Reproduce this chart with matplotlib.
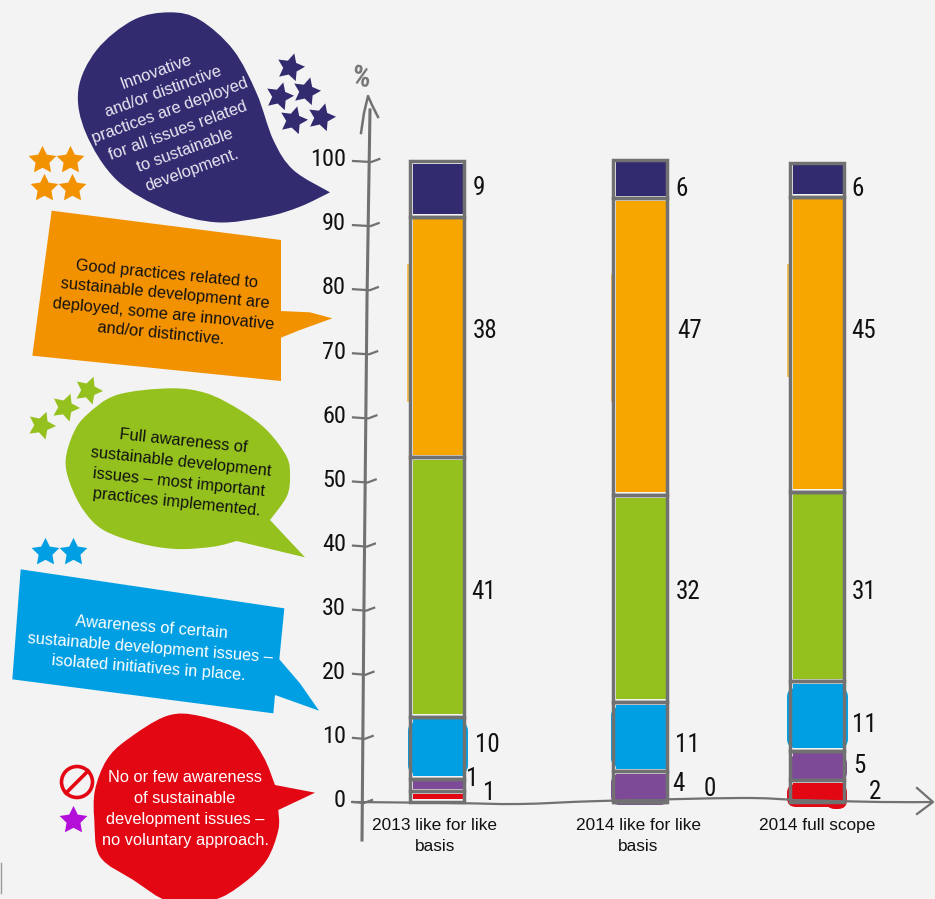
import numpy as np
import matplotlib
matplotlib.use("Agg")
import matplotlib.pyplot as plt
from matplotlib.path import Path
from matplotlib.patches import PathPatch, Polygon, Circle, FancyBboxPatch

# ---------- data ----------
categories = ["2013 like for\u00a0like\nbasis", "2014 like for\u00a0like\nbasis", "2014 full scope"]
# printed values, bottom to top
lab_red = [1, 0, 2]
lab_purple = [1, 4, 5]
lab_blue = [10, 11, 11]
lab_green = [41, 32, 31]
lab_orange = [38, 47, 45]
lab_navy = [9, 6, 6]
# heights as drawn in the picture (hand-sketched, so they differ from the printed numbers)
h_red = [1.7, 0.0, 3.4]
h_purple = [1.9, 4.8, 4.6]
h_blue = [9.7, 10.8, 10.8]
h_green = [40.5, 32.3, 29.6]
h_orange = [37.5, 46.3, 46.0]
h_navy = [8.7, 6.0, 5.3]
yticks = [0, 10, 20, 30, 40, 50, 60, 70, 80, 90, 100]

C_NAVY, C_ORANGE, C_GREEN, C_BLUE, C_PURPLE, C_RED = "#322B70", "#F7A600", "#95C11F", "#009FE3", "#7D4A98", "#E30613"
C_ORANGE2 = "#F39200"
BG = "#F3F3F3"
GRAY = "#727171"
NUM = "Roboto Condensed"
SANS = "Liberation Sans"

W, H = 935, 899
fig = plt.figure(figsize=(W / 100, H / 100), dpi=100, facecolor=BG)

# data axes: value 0 at pixel row 802, value 100 at row 161
PX = 6.41
ax = fig.add_axes([0, 0, 1, 1])
ax.set_xlim(0, W)
ax.set_ylim((802 - H) / PX, 802 / PX)
ax.axis("off")
ax.patch.set_alpha(0)
ax.set_zorder(1)

# overlay in pixel coordinates for decoration
de = fig.add_axes([0, 0, 1, 1], zorder=0)
de.set_xlim(0, W)
de.set_ylim(H, 0)
de.axis("off")


def spline(pts):
    pts = np.asarray(pts, float)
    n = len(pts)
    verts = [pts[0]]
    codes = [Path.MOVETO]
    for i in range(n - 1):
        p0, p1, p2, p3 = pts[max(i - 1, 0)], pts[i], pts[i + 1], pts[min(i + 2, n - 1)]
        verts += [p1 + (p2 - p0) / 6, p2 - (p3 - p1) / 6, p2]
        codes += [Path.CURVE4] * 3
    return verts, codes


def blob(pts, color, tail=None, zorder=2):
    v, c = spline(pts)
    if tail:
        for t in tail:
            v.append(np.array(t, float))
            c.append(Path.LINETO)
    v.append(v[0])
    c.append(Path.CLOSEPOLY)
    de.add_patch(PathPatch(Path(v, c), fc=color, ec="none", zorder=zorder))


def z3(pts, ox=0, oy=0):
    return [(x / 3 + ox, y / 3 + oy) for x, y in pts]


# navy bubble
blob(z3([(990, 577), (880, 510), (820, 420), (770, 280), (700, 150), (600, 60), (510, 37), (400, 60), (290, 150),
         (235, 270), (258, 400), (350, 540), (500, 630), (650, 667), (800, 650), (900, 620), (990, 577)]), C_NAVY)
# orange box
de.add_patch(Polygon(z3([(155, 632), (843, 720), (843, 933), (930, 937), (997, 955), (900, 990), (843, 1013),
                         (843, 1143), (97, 1067)]), fc=C_ORANGE2, ec="none"))
# green bubble
blob(z3([(710, 483), (640, 500), (530, 507), (420, 490), (310, 450), (250, 390), (210, 310), (197, 240), (220, 160),
         (260, 105), (350, 45), (510, 25), (620, 40), (720, 90), (800, 150), (860, 230), (870, 290), (860, 350),
         (810, 420)], 0, 380), C_GREEN, tail=z3([(915, 532)], 0, 380))
# blue box
de.add_patch(Polygon(z3([(62, 568), (853, 685), (838, 838), (900, 910), (957, 992), (825, 945), (820, 1000),
                         (37, 898)], 0, 380), fc=C_BLUE, ec="none"))
# red bubble
blob(z3([(835, 1290), (835, 1350), (800, 1440), (730, 1510), (640, 1560), (510, 1565), (400, 1500), (300, 1430),
         (283, 1320), (285, 1230), (320, 1140), (380, 1080), (500, 1008), (600, 1008), (730, 1055), (790, 1130),
         (825, 1215)], 0, 380), C_RED, tail=z3([(945, 1238)], 0, 380))


def stars(pts, color, size=21, ang=0):
    for (x, y) in pts:
        de.plot([x], [y], marker=(5, 1, ang), ms=size, mfc=color, mec="none", ls="none", zorder=3)


stars(z3([(870, 200), (838, 288), (917, 273), (880, 360), (963, 350)]), C_NAVY, ang=-15)
stars(z3([(127, 480), (210, 480), (132, 565), (215, 565)]), C_ORANGE2, ang=0)
stars([(88, 390), (65, 407), (41, 425)], C_GREEN, ang=-20)
stars([(45, 552), (73, 552)], C_BLUE, ang=0)
stars([(73, 820)], "#B40FD8", ang=0)
de.add_patch(Circle((77, 782), 15.5, fc="none", ec=C_RED, lw=2.6, zorder=3))
de.plot([66, 88], [793, 771], color=C_RED, lw=2.6, zorder=3)
de.plot([0.5, 0.5], [863, 893], color="#9a9a9a", lw=1)

# callout texts
TS = 11.8


def note(x, y, s, color, rot, ls=1.5):
    de.text(x, y, s, color=color, rotation=rot, rotation_mode="anchor", ha="center", va="center",
            multialignment="center", fontsize=TS, family=SANS, linespacing=ls, zorder=4)


note(174, 121, "Innovative\nand/or distinctive\npractices are deployed\nfor all issues related\nto sustainable\ndevelopment.",
     "#E8E8F2", 20)
note(164, 304, "Good practices related to\nsustainable development are\ndeployed, some are innovative\nand/or distinctive.",
     "#111111", -5.5, 1.42)
note(180, 472, "Full awareness of\nsustainable development\nissues \u2013 most important\npractices implemented.",
     "#111111", -6, 1.45)
note(150, 648, "Awareness of certain\nsustainable development issues \u2013\nisolated initiatives in place.",
     "white", -4.5, 1.45)
note(185, 809, "No or few awareness\nof sustainable\ndevelopment issues \u2013\nno voluntary approach.",
     "white", 0)

# paint splashes around the sketched bars
for (x, y, w, h, col) in [(408, 722, 60, 52, C_BLUE), (611, 707, 58, 60, C_BLUE), (787, 688, 61, 60, C_BLUE),
                          (611, 774, 58, 31, C_PURPLE), (789, 755, 58, 26, C_PURPLE),
                          (787, 784, 60, 23, C_RED), (826, 790, 21, 19, C_RED)]:
    de.add_patch(FancyBboxPatch((x + 6, y + 6), w - 12, h - 12, boxstyle="round,pad=6,rounding_size=9",
                                fc=col, ec="none", zorder=1))
for (x, y0, y1) in [(408, 265, 400), (612, 275, 400), (788, 265, 375)]:
    de.plot([x, x], [y0, y1], color=C_ORANGE, lw=2, alpha=0.7, zorder=1)

# bars
x_pos = np.array([437.0, 640.0, 817.0])
series = [h_red, h_purple, h_blue, h_green, h_orange, h_navy]
colors = [C_RED, C_PURPLE, C_BLUE, C_GREEN, C_ORANGE, C_NAVY]
bottom = np.zeros(3)
for vals, col in zip(series, colors):
    vals = np.array(vals)
    inset = np.where(vals > 0, 0.4, 0)
    ax.bar(x_pos + 1, vals - 2 * inset, bottom=bottom + inset, width=50, color=col, zorder=2)
    bottom = bottom + vals

bottom = np.zeros(3)
for vals in series:
    vals = np.array(vals)
    ax.bar(x_pos, vals, bottom=bottom, width=54, fc="none", ec=GRAY, lw=2.5, zorder=3)
    bottom = bottom + vals

# printed values next to the segments (pixel placement of the hand-written numbers)
value_cols = [lab_navy, lab_orange, lab_green, lab_blue, lab_purple, lab_red]
label_xy = [
    [(479, 188), (682, 189), (858, 189)],
    [(485, 331), (690, 331), (864, 331)],
    [(484, 592), (688, 592), (864, 592)],
    [(487, 745), (687, 745), (864, 725)],
    [(472, 779), (678, 784), (859, 766)],
    [(489, 793), (710, 789), (875, 792)],
]
for vals, xy in zip(value_cols, label_xy):
    for v, (x, y) in zip(vals, xy):
        de.text(x, y, str(v), fontsize=18, family=NUM, weight=400, color="#111111", ha="center", va="center", zorder=5)

# axes drawn by hand
for t in yticks:
    y = 802 - t * PX
    xa = 362 + 8 * (802 - y) / 700
    de.plot([353, xa + 2, xa + 10], [y, y + 1, y - 2], color=GRAY, lw=1.6, zorder=1)
    ax.text(346, t + 0.2, str(t), fontsize=17.5, family=NUM, weight=400, color="#111111", ha="right", va="center", zorder=5)

de.plot([362, 364, 367, 370], [840, 600, 300, 110], color=GRAY, lw=2.2, zorder=1)
de.plot([361, 364, 368, 372, 378], [133, 113, 96, 105, 117], color=GRAY, lw=1.8, zorder=1)
de.text(361, 78, "%", fontsize=21, family=NUM, weight="bold", color=GRAY, rotation=-8, ha="center", va="center")

xv, cv = spline([(351, 802), (450, 803), (520, 804), (600, 801), (740, 798), (800, 800), (880, 802), (933, 802)])
de.add_patch(PathPatch(Path(xv, cv), fc="none", ec=GRAY, lw=1.6, zorder=4))
de.plot([917, 933, 917], [788, 802, 814], color=GRAY, lw=1.6, zorder=4)

# category labels
for x, lab in zip([435, 638, 817], categories):
    de.text(x, 818, lab, fontsize=12.4, family=SANS, color="#111111", ha="center", va="top", linespacing=1.5)

fig.savefig("out.png", dpi=100, facecolor=BG)
